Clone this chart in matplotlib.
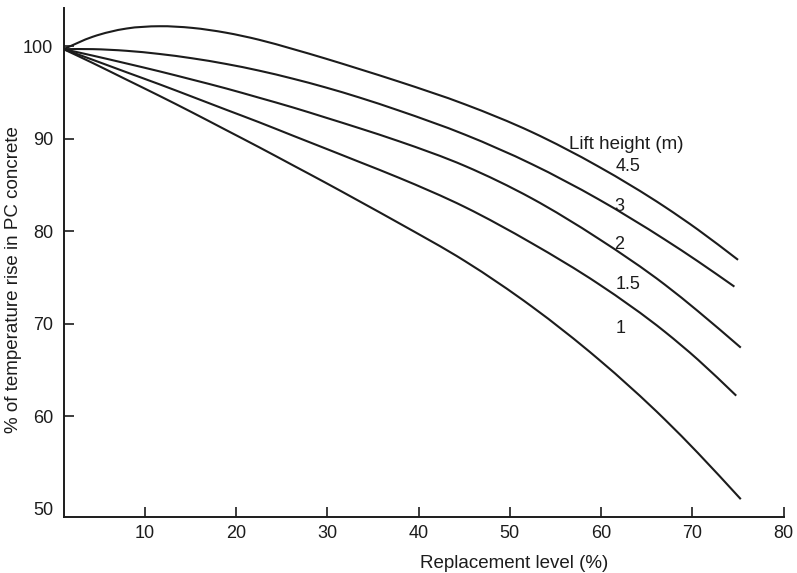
import numpy as np
import matplotlib
matplotlib.use('Agg')
import matplotlib.pyplot as plt
from matplotlib.path import Path
from matplotlib.patches import PathPatch

plt.rcParams['font.family'] = ['Liberation Sans', 'DejaVu Sans']

# replacement level (%)
x_grid = [1.1, 4.3, 8.0, 11.6, 15.2, 18.9, 22.5, 26.2, 29.8, 33.5, 37.8,
          45.1, 52.4, 59.7, 67.0, 70.6]
# last point of each curve (x)
x_end = [75.0, 74.6, 75.3, 74.8, 75.3]

# % of temperature rise, one list per lift height
y_45 = [99.7, 101.04, 101.93, 102.18, 102.0, 101.48, 100.72, 99.72, 98.68, 97.55, 96.2,
        93.72, 90.73, 87.0, 82.62, 80.17, 76.9]
y_3 = [99.7, 99.7, 99.52, 99.18, 98.71, 98.1, 97.38, 96.51, 95.56, 94.47, 93.07,
       90.44, 87.26, 83.46, 79.08, 76.74, 74.0]
y_2 = [99.7, 99.0, 98.15, 97.3, 96.4, 95.45, 94.45, 93.4, 92.3, 91.15, 89.75,
       87.05, 83.55, 79.2, 74.2, 71.35, 67.4]
y_15 = [99.7, 98.55, 97.2, 95.9, 94.55, 93.15, 91.8, 90.35, 88.95, 87.5, 85.8,
        82.6, 78.7, 74.3, 69.1, 66.1, 62.2]
y_1 = [99.7, 98.2, 96.4, 94.65, 92.85, 90.95, 89.1, 87.15, 85.25, 83.25, 80.9,
       76.75, 71.85, 66.15, 59.6, 56.0, 51.0]

curve_labels = ['4.5', '3', '2', '1.5', '1']
label_x = [62.9, 62.0, 62.0, 62.9, 62.1]
label_y = [87.0, 82.7, 78.6, 74.2, 69.5]


def smooth_path(xs, ys):
    # cubic Hermite segments through the read points
    xs = np.asarray(xs, float)
    ys = np.asarray(ys, float)
    h = np.diff(xs)
    d = np.diff(ys) / h
    m = np.empty_like(ys)
    m[0] = d[0]
    m[-1] = d[-1]
    for i in range(1, len(xs) - 1):
        m[i] = (d[i - 1] * h[i] + d[i] * h[i - 1]) / (h[i - 1] + h[i])
    verts = [(xs[0], ys[0])]
    codes = [Path.MOVETO]
    for i in range(len(h)):
        verts += [(xs[i] + h[i] / 3, ys[i] + m[i] * h[i] / 3),
                  (xs[i + 1] - h[i] / 3, ys[i + 1] - m[i + 1] * h[i] / 3),
                  (xs[i + 1], ys[i + 1])]
        codes += [Path.CURVE4] * 3
    return Path(verts, codes)


fig = plt.figure(figsize=(7.97, 5.73), dpi=100)
ax = fig.add_axes([0.0797, 0.0982, 0.9036, 0.8878])

ink = '#1c1c1c'
for ys, xe in zip([y_45, y_3, y_2, y_15, y_1], x_end):
    ax.add_patch(PathPatch(smooth_path(x_grid + [xe], ys), fill=False,
                           edgecolor=ink, linewidth=1.5, capstyle='butt'))

for lab, lx, ly in zip(curve_labels, label_x, label_y):
    ax.text(lx, ly, lab, ha='center', va='center', fontsize=13, color=ink)
ax.text(62.8, 89.4, 'Lift height (m)', ha='center', va='center', fontsize=13.5, color=ink)

ax.set_xlim(1.1, 80)
ax.set_ylim(49.1, 104.15)
ax.set_xticks([10, 20, 30, 40, 50, 60, 70, 80])
ax.set_yticks([50, 60, 70, 80, 90, 100])
ax.yaxis.get_major_ticks()[0].tick1line.set_visible(False)

for side in ['top', 'right']:
    ax.spines[side].set_visible(False)
for side in ['left', 'bottom']:
    ax.spines[side].set_linewidth(1.4)
    ax.spines[side].set_color(ink)

ax.tick_params(direction='in', length=7, width=1.2, color=ink,
               labelsize=13, labelcolor=ink)
ax.tick_params(axis='y', pad=7.5)
ax.tick_params(axis='x', pad=6)

ax.set_xlabel('Replacement level (%)', fontsize=13.5, color=ink)
ax.xaxis.set_label_coords(0.6255, -0.076)
ax.set_ylabel('% of temperature rise in PC concrete', fontsize=13.5, color=ink)
ax.yaxis.set_label_coords(-0.058, 0.467)

fig.savefig('out.png', dpi=100)
